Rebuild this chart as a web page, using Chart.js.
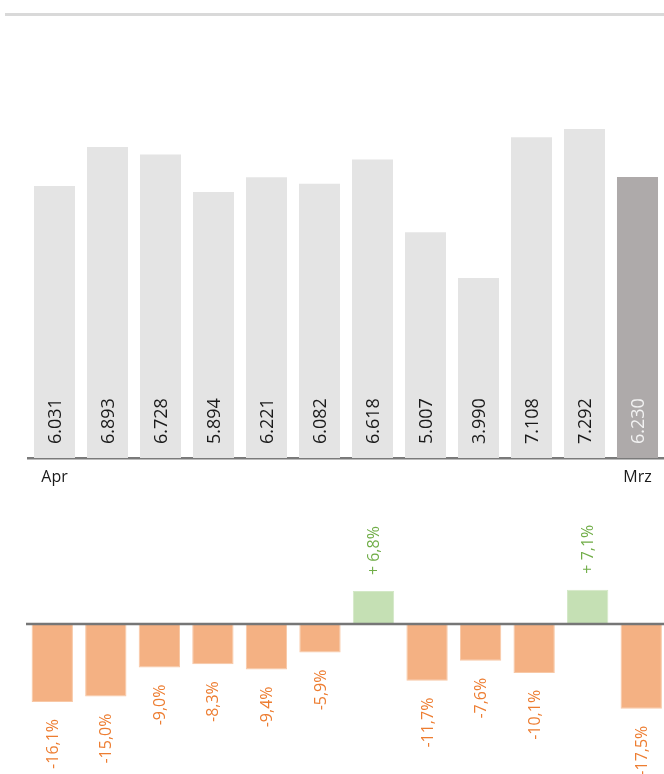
<!DOCTYPE html>
<html>
<head>
<meta charset="utf-8">
<script src="https://cdn.jsdelivr.net/npm/chart.js@4/dist/chart.umd.min.js"></script>
<style>
  html, body { margin: 0; padding: 0; background: #fff; width: 664px; height: 774px; overflow: hidden; }
  #wrap { position: relative; width: 664px; height: 774px; }
  #rule { position: absolute; left: 5px; top: 13px; width: 659px; height: 3px; background: #d9d9d9; }
  #top { position: absolute; left: 0; top: 0; }
  #bottom { position: absolute; left: 0; top: 500px; }
</style>
</head>
<body>
<div id="wrap">
  <div id="rule"></div>
  <canvas id="top" width="664" height="500"></canvas>
  <canvas id="bottom" width="670" height="274"></canvas>
</div>
<script>
// Monthly volumes, April to March
const months = ['Apr', 'Mai', 'Jun', 'Jul', 'Aug', 'Sep', 'Okt', 'Nov', 'Dez', 'Jan', 'Feb', 'Mrz'];
const tickLabels = ['Apr', '', '', '', '', '', '', '', '', '', '', 'Mrz'];
const volumes = [6031, 6893, 6728, 5894, 6221, 6082, 6618, 5007, 3990, 7108, 7292, 6230];
// Change versus previous year, in percent
const changes = [-16.1, -15.0, -9.0, -8.3, -9.4, -5.9, 6.8, -11.7, -7.6, -10.1, 7.1, -17.5];

const FONT = "'Open Sans', 'Noto Sans', sans-serif";

function fmtThousands(v) {
  return String(v).replace(/\B(?=(\d{3})+(?!\d))/g, '.');
}
function fmtPct(v) {
  const s = Math.abs(v).toFixed(1).replace('.', ',') + '%';
  return v >= 0 ? '+ ' + s : '-' + s;
}

// Value labels written upright inside the bars, starting near the baseline
const volumeLabels = {
  id: 'volumeLabels',
  afterDatasetsDraw(chart) {
    const ctx = chart.ctx;
    const meta = chart.getDatasetMeta(0);
    const base = chart.scales.y.getPixelForValue(0);
    ctx.save();
    ctx.font = '18px ' + FONT;
    ctx.textBaseline = 'middle';
    ctx.textAlign = 'left';
    meta.data.forEach((bar, i) => {
      ctx.save();
      ctx.translate(bar.x, base - 14);
      ctx.rotate(-Math.PI / 2);
      ctx.fillStyle = i === volumes.length - 1 ? '#f2f2f2' : '#1a1a1a';
      ctx.fillText(fmtThousands(volumes[i]), 0, 1);
      ctx.restore();
    });
    ctx.restore();
  }
};

new Chart(document.getElementById('top'), {
  type: 'bar',
  data: {
    labels: tickLabels,
    datasets: [{
      data: volumes,
      backgroundColor: volumes.map((v, i) => i === volumes.length - 1 ? '#aeaaaa' : '#e4e4e4'),
      borderWidth: 0,
      categoryPercentage: 1,
      barPercentage: 0.774
    }]
  },
  options: {
    responsive: false,
    animation: false,
    events: [],
    layout: { padding: { top: 52, left: 28, right: 0, bottom: 0 } },
    plugins: { legend: { display: false }, tooltip: { enabled: false } },
    scales: {
      x: {
        afterFit(scale) { scale.height = 42; },
        grid: { display: false, drawTicks: false },
        border: { display: true, color: '#7a7a7a', width: 2.4 },
        ticks: {
          autoSkip: false, maxRotation: 0, minRotation: 0, padding: 10,
          color: '#1a1a1a', font: { family: FONT, size: 16 }
        }
      },
      y: { display: false, min: 0, max: 9000 }
    }
  },
  plugins: [volumeLabels]
});

// Percentage labels above positive bars and below negative bars
const changeLabels = {
  id: 'changeLabels',
  afterDatasetsDraw(chart) {
    const ctx = chart.ctx;
    const meta = chart.getDatasetMeta(0);
    ctx.save();
    ctx.font = '16px ' + FONT;
    ctx.textBaseline = 'middle';
    meta.data.forEach((bar, i) => {
      const v = changes[i];
      ctx.save();
      if (v >= 0) {
        ctx.translate(bar.x, bar.y - 16);
        ctx.rotate(-Math.PI / 2);
        ctx.textAlign = 'left';
        ctx.fillStyle = '#70ad47';
      } else {
        ctx.translate(bar.x, bar.y + 17);
        ctx.rotate(-Math.PI / 2);
        ctx.textAlign = 'right';
        ctx.fillStyle = '#ed7d31';
      }
      ctx.fillText(fmtPct(v), 0, 1);
      ctx.restore();
    });
    ctx.restore();
  }
};

// Zero line across the change chart
const zeroLine = {
  id: 'zeroLine',
  afterDatasetsDraw(chart) {
    const ctx = chart.ctx;
    const y = chart.scales.y.getPixelForValue(0);
    ctx.save();
    ctx.strokeStyle = '#767676';
    ctx.lineWidth = 2.4;
    ctx.beginPath();
    ctx.moveTo(26, y);
    ctx.lineTo(chart.width, y);
    ctx.stroke();
    ctx.restore();
  }
};

new Chart(document.getElementById('bottom'), {
  type: 'bar',
  data: {
    labels: months,
    datasets: [{
      data: changes,
      backgroundColor: changes.map(v => v >= 0 ? '#c5e0b4' : '#f4b183'),
      borderColor: changes.map(v => v >= 0 ? '#d3e8c6' : '#f8c8a6'),
      borderWidth: 1,
      categoryPercentage: 1,
      barPercentage: 0.772
    }]
  },
  options: {
    responsive: false,
    animation: false,
    events: [],
    layout: { padding: { top: 27.2, left: 25.5, right: 2, bottom: 4.8 } },
    plugins: { legend: { display: false }, tooltip: { enabled: false } },
    scales: {
      x: { display: false },
      y: { display: false, min: -30, max: 20 }
    }
  },
  plugins: [zeroLine, changeLabels]
});
</script>
</body>
</html>
